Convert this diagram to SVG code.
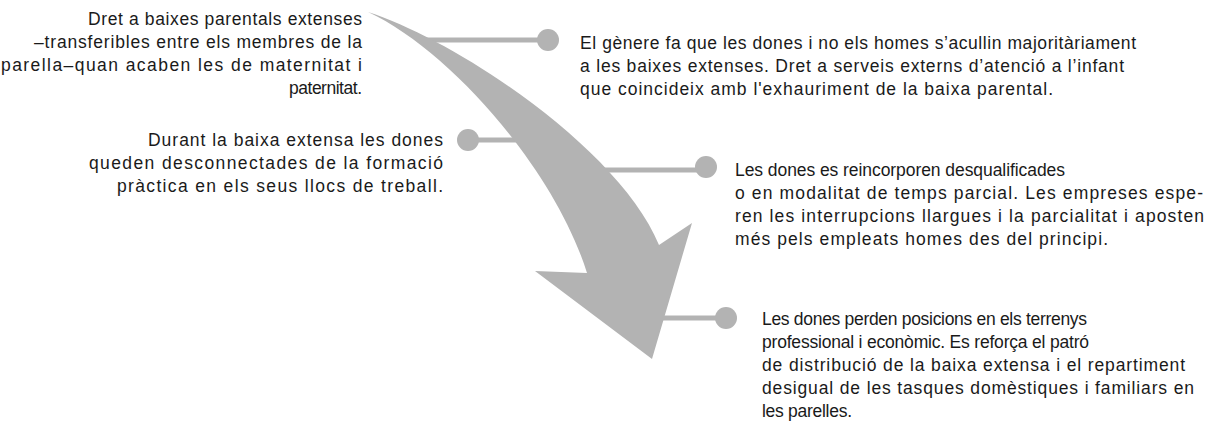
<svg xmlns="http://www.w3.org/2000/svg" width="1214" height="422" viewBox="0 0 1214 422">
<style>
.t{font-family:"Liberation Sans",Arial,sans-serif;font-size:17.5px;fill:#1a1a1a}
.r{text-anchor:end}
.ln{stroke:#b3b3b3;stroke-width:5;fill:none}
.dot{fill:#b3b3b3}
.arrow{fill:#b3b3b3}
</style>
<rect width="1214" height="422" fill="#ffffff"/>
<g id="connectors">
<line class="ln" x1="420" y1="40" x2="548" y2="40"/>
<circle class="dot" cx="548" cy="40" r="11"/>
<line class="ln" x1="468" y1="140" x2="540" y2="140"/>
<circle class="dot" cx="468" cy="140" r="11"/>
<line class="ln" x1="580" y1="170" x2="706" y2="170"/>
<circle class="dot" cx="706" cy="167" r="11"/>
<line class="ln" x1="640" y1="318" x2="726" y2="318"/>
<circle class="dot" cx="726" cy="318" r="11"/>
</g>
<g id="arrow">
<path class="arrow" d="M368,12 C460,42 620,150 659,245 L692,223 L652,359 L535,271 L587,273 C555,170 450,50 368,12 Z"/>
</g>
<g id="node1">
<text class="t r" x="362" y="25" textLength="274" lengthAdjust="spacing">Dret a baixes parentals extenses</text>
<text class="t r" x="362" y="48" textLength="328" lengthAdjust="spacing">–transferibles entre els membres de la</text>
<text class="t r" x="362" y="71" textLength="361" lengthAdjust="spacing">parella–quan acaben les de maternitat i</text>
<text class="t r" x="362" y="94" textLength="73" lengthAdjust="spacing">paternitat.</text>
</g>
<g id="node2">
<text class="t r" x="443" y="146" textLength="295" lengthAdjust="spacing">Durant la baixa extensa les dones</text>
<text class="t r" x="443" y="169" textLength="354" lengthAdjust="spacing">queden desconnectades de la formació</text>
<text class="t r" x="443" y="192" textLength="326" lengthAdjust="spacing">pràctica en els seus llocs de treball.</text>
</g>
<g id="node3">
<text class="t" x="580" y="49" textLength="556" lengthAdjust="spacing">El gènere fa que les dones i no els homes s’acullin majoritàriament</text>
<text class="t" x="580" y="72" textLength="544" lengthAdjust="spacing">a les baixes extenses. Dret a serveis externs d’atenció a l’infant</text>
<text class="t" x="580" y="95" textLength="473" lengthAdjust="spacing">que coincideix amb l'exhauriment de la baixa parental.</text>
</g>
<g id="node4">
<text class="t" x="735" y="176" textLength="330" lengthAdjust="spacing">Les dones es reincorporen desqualificades</text>
<text class="t" x="735" y="199" textLength="468" lengthAdjust="spacing">o en modalitat de temps parcial. Les empreses espe-</text>
<text class="t" x="735" y="222" textLength="469" lengthAdjust="spacing">ren les interrupcions llargues i la parcialitat i aposten</text>
<text class="t" x="735" y="245" textLength="373" lengthAdjust="spacing">més pels empleats homes des del principi.</text>
</g>
<g id="node5">
<text class="t" x="762" y="325" textLength="325" lengthAdjust="spacing">Les dones perden posicions en els terrenys</text>
<text class="t" x="762" y="348" textLength="327" lengthAdjust="spacing">professional i econòmic. Es reforça el patró</text>
<text class="t" x="762" y="371" textLength="423" lengthAdjust="spacing">de distribució de la baixa extensa i el repartiment</text>
<text class="t" x="762" y="394" textLength="432" lengthAdjust="spacing">desigual de les tasques domèstiques i familiars en</text>
<text class="t" x="762" y="417" textLength="90" lengthAdjust="spacing">les parelles.</text>
</g>
</svg>
